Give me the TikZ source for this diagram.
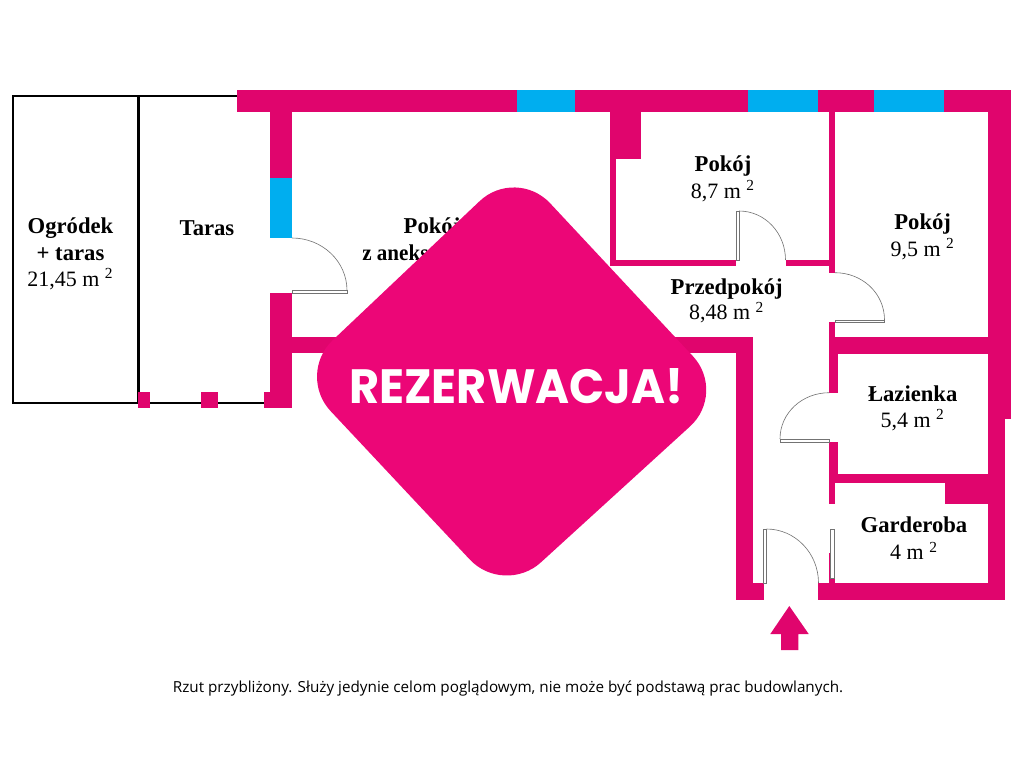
\documentclass[tikz,border=0pt]{standalone}
\usepackage{fontspec}
\setmainfont{Liberation Serif}
\newfontfamily\stampfont{Poppins}
\newfontfamily\notefont{Open Sans}
\definecolor{wallpink}{HTML}{E0056D}
\definecolor{stamppink}{HTML}{EC0677}
\definecolor{glassblue}{HTML}{00AEEF}
\tikzset{
  wall/.style={fill=wallpink},
  glass/.style={fill=glassblue},
  doorleaf/.style={draw=black!55,line width=.35pt,fill=white},
  doorarc/.style={draw=black!55,line width=.35pt},
  roomname/.style={font=\fontsize{12.9}{12.9}\selectfont\bfseries,inner sep=0pt},
  roomarea/.style={font=\fontsize{12.5}{12.5}\selectfont,inner sep=0pt}
}
\begin{document}
\begin{tikzpicture}[x=0.02cm,y=-0.02cm]
\useasboundingbox (0,0) rectangle (1024,768);
% garden and terrace
\draw[line width=1.2pt] (264,403) -- (13,403) -- (13,96) -- (237,96);
\draw[line width=1.2pt] (138.5,96) -- (138.5,403);
\fill[wall] (138,392) rectangle (150,408);
\fill[wall] (201,392) rectangle (218,408);
\fill[wall] (264,392) rectangle (292,408);
% outer walls
\fill[wall] (237,90) rectangle (1010.7,112);
\fill[wall] (270,112) rectangle (292,178);
\fill[wall] (270,293) rectangle (292,408);
\fill[wall] (988,112) rectangle (1010.7,419);
\fill[wall] (988,419) rectangle (1005,600);
\fill[wall] (736,583) rectangle (764,600);
\fill[wall] (818,583) rectangle (1005,600);
\fill[wall] (736,337) rectangle (753,600);
% inner walls
\fill[wall] (292,337) rectangle (753,353);
\fill[wall] (610,112) rectangle (616,265.5);
\fill[wall] (610,112) rectangle (640.5,159);
\fill[wall] (610,260) rectangle (736,265.5);
\fill[wall] (785.5,260) rectangle (835,265.5);
\fill[wall] (829.3,112) rectangle (835,273);
\fill[wall] (829.3,322) rectangle (835,354);
\fill[wall] (829.3,337) rectangle (988,354);
\fill[wall] (829.3,354) rectangle (838,392.7);
\fill[wall] (829.3,442) rectangle (838,483);
\fill[wall] (829.3,474.3) rectangle (988,483.3);
\fill[wall] (829.3,483) rectangle (835,504);
\fill[wall] (829.3,553.3) rectangle (835,583);
\fill[wall] (945,483) rectangle (988,504);
% windows
\fill[glass] (517,90) rectangle (575,112);
\fill[glass] (747.7,90) rectangle (818,112);
\fill[glass] (873.7,90) rectangle (944,112);
\fill[glass] (270,178) rectangle (292,238);
% doors
\draw[doorleaf] (292,290.7) rectangle (347,293);
\draw[doorarc] (292,238) .. controls (322,238) and (347,261) .. (347,290.7);
\draw[doorleaf] (736,211) rectangle (739,260);
\draw[doorarc] (739,211) .. controls (765,211) and (785.5,233) .. (785.5,260);
\draw[doorleaf] (835,320) rectangle (884.5,322);
\draw[doorarc] (835,272.7) .. controls (862,272.7) and (884.5,293) .. (884.5,320);
\draw[doorleaf] (780,439) rectangle (829.3,442);
\draw[doorarc] (829.3,392.7) .. controls (802,392.7) and (780,413) .. (780,439);
\draw[doorleaf] (763.5,529) rectangle (766.5,583);
\draw[doorarc] (766.5,529) .. controls (795,529) and (818.5,553) .. (818.5,583);
\draw[doorleaf] (830.5,529) rectangle (834,578);
% entrance arrow
\fill[wall] (789.3,606) -- (808.7,634) -- (798.3,634) -- (798.3,650) -- (781,650) -- (781,634) -- (770.3,634) -- cycle;
% room labels
\node[roomname] (gardenname) at (70.5,228) {Ogródek};
\node[roomname] (gardenplus) at (70.5,254) {+ taras};
\node[roomarea] (gardenarea) at (70.5,279) {21,45 m \textsuperscript{2}};
\node[roomname] (terracename) at (207,228) {Taras};
\node[roomname] (livingname) at (432,228) {Pokój};
\node[roomname,anchor=west,xscale=.93] (livingplus) at (362,253) {z aneksem};
\node[roomname] (roomaname) at (723,166) {Pokój};
\node[roomarea] (roomaarea) at (723,191) {8,7 m \textsuperscript{2}};
\node[roomname] (roombname) at (922.7,224) {Pokój};
\node[roomarea] (roombarea) at (922.7,249) {9,5 m \textsuperscript{2}};
\node[roomname] (hallname) at (726.7,289) {Przedpokój};
\node[roomarea] (hallarea) at (726.7,312.5) {8,48 m \textsuperscript{2}};
\node[roomname] (bathname) at (912.7,394) {Łazienka};
\node[roomarea] (batharea) at (912.7,420) {5,4 m \textsuperscript{2}};
\node[roomname] (closetname) at (914,525) {Garderoba};
\node[roomarea] (closetarea) at (914,551) {4 m \textsuperscript{2}};
% reservation stamp
\fill[stamppink,rounded corners=1cm] (516,166.7) -- (727,392.7) -- (504,596) -- (296.4,374.6) -- cycle;
\node[text=white,inner sep=0pt,xscale=.96,font=\stampfont\bfseries\fontsize{27.4}{27.4}\selectfont] (stamp) at (516.5,386) {REZERWACJA!};
\node[inner sep=0pt,font=\notefont\fontsize{8.68}{9}\selectfont] (note) at (508,688) {Rzut przybliżony. Służy jedynie celom poglądowym, nie może być podstawą prac budowlanych.};
\end{tikzpicture}
\end{document}
